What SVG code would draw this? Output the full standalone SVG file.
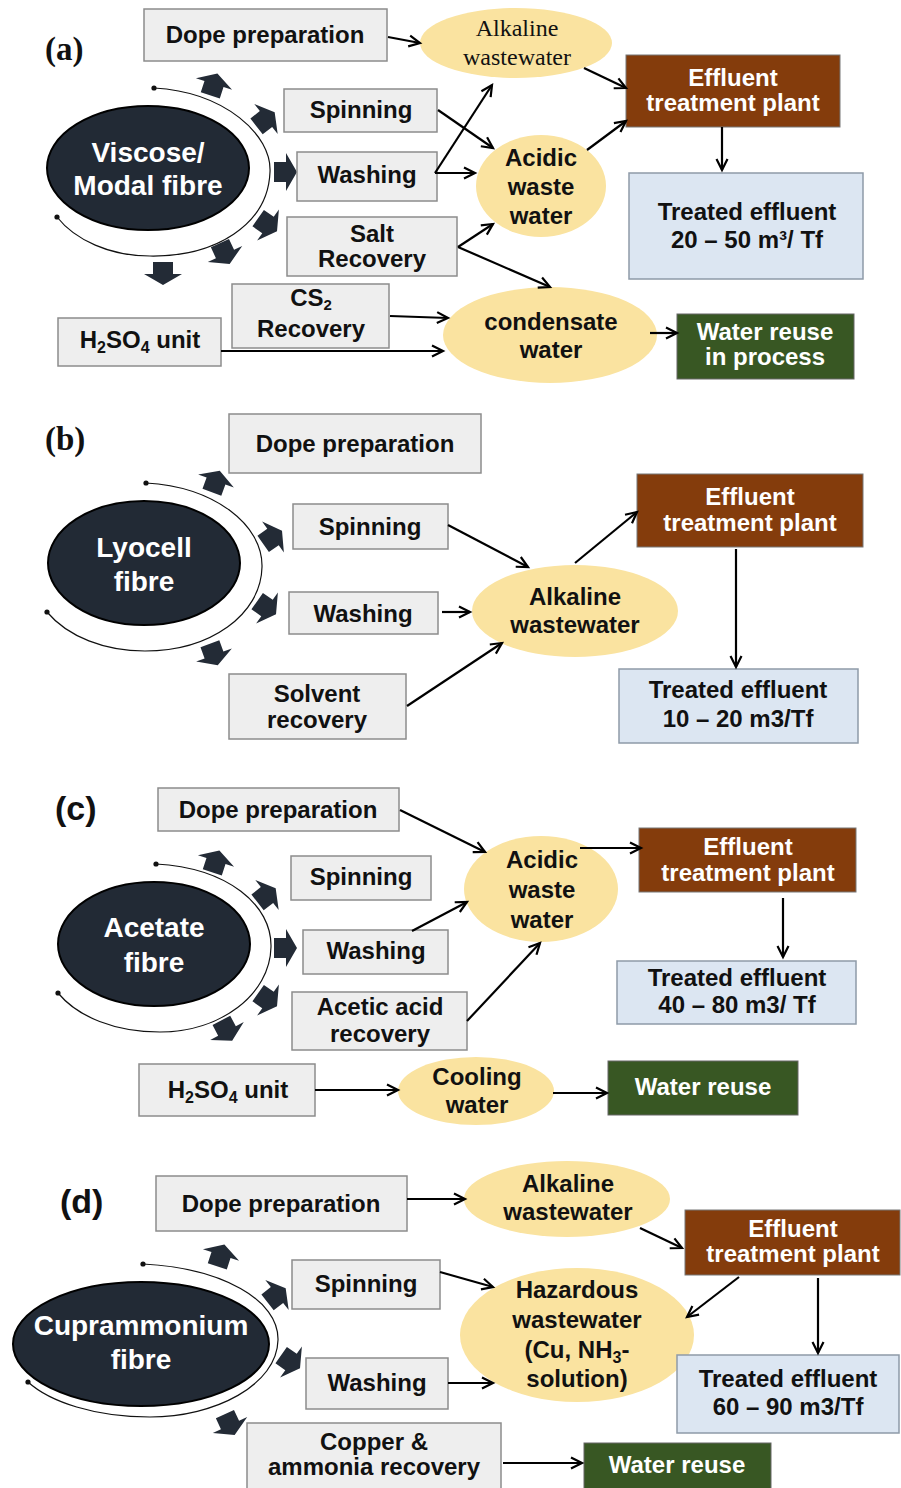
<svg xmlns="http://www.w3.org/2000/svg" width="901" height="1488" viewBox="0 0 901 1488">
<style>
.box{fill:#eeeeee;stroke:#8c8c8c;stroke-width:1.5}
.etp{fill:#843c0c;stroke:#777;stroke-width:1}
.blue{fill:#dce6f2;stroke:#8e9aa8;stroke-width:1.5}
.grn{fill:#385723;stroke:#666;stroke-width:1}
.yel{fill:#fae3a0}
.fib{fill:#222a35;stroke:#000;stroke-width:2}
.t{font-family:"Liberation Sans",Arial,sans-serif;font-weight:bold;font-size:24px;text-anchor:middle;fill:#111}
.tw{font-family:"Liberation Sans",Arial,sans-serif;font-weight:bold;font-size:24px;text-anchor:middle;fill:#fff}
.big{font-family:"Liberation Sans",Arial,sans-serif;font-weight:bold;font-size:28px;text-anchor:middle;fill:#fff}
.serif{font-family:"Liberation Serif","Times New Roman",serif;font-size:24px;text-anchor:middle;fill:#111}
.lblS{font-family:"Liberation Serif","Times New Roman",serif;font-weight:bold;font-size:33px;fill:#111}
.lblA{font-family:"Liberation Sans",Arial,sans-serif;font-weight:bold;font-size:34px;fill:#111}
.arc{fill:none;stroke:#111;stroke-width:1.2}
.dot{fill:#111}
.blk{fill:#232b36}
.con path{fill:none;stroke:#000;stroke-width:2.2;marker-end:url(#ah)}
</style>
<defs>
<marker id="ah" markerUnits="userSpaceOnUse" markerWidth="16" markerHeight="16" refX="12" refY="7" orient="auto">
<path d="M1,1.5 L12,7 L1,12.5" fill="none" stroke="#000" stroke-width="2.2"/>
</marker>
<path id="ba" d="M-12,-10 L0,-10 L0,-19 L11,0 L0,19 L0,10 L-12,10 Z"/>
</defs>
<rect width="901" height="1488" fill="#fff"/>

<!-- ===== (a) ===== -->
<text class="lblS" x="45" y="60">(a)</text>
<g id="a-fibre">
<ellipse class="fib" cx="148" cy="168" rx="101" ry="62"/>
<text class="big" x="148" y="162">Viscose/</text>
<text class="big" x="148" y="195">Modal fibre</text>
</g>
<g id="a-ring">
<path class="arc" d="M154,88 C225,92 272,135 270,172 C268,225 215,257 150,256 C110,256 75,240 57,217"/>
<circle class="dot" cx="154" cy="88" r="2.6"/>
<circle class="dot" cx="57" cy="217" r="2.6"/>
<use href="#ba" class="blk" transform="translate(214,84) rotate(-72)"/>
<use href="#ba" class="blk" transform="translate(266,119) rotate(-38)"/>
<use href="#ba" class="blk" transform="translate(286,172)"/>
<use href="#ba" class="blk" transform="translate(268,225) rotate(35)"/>
<use href="#ba" class="blk" transform="translate(225,254) rotate(65)"/>
<use href="#ba" class="blk" transform="translate(163,274) rotate(90)"/>
</g>
<g id="a-dope"><rect class="box" x="144" y="9" width="243" height="52"/><text class="t" x="265" y="43">Dope preparation</text></g>
<g id="a-spin"><rect class="box" x="284" y="89" width="153" height="43"/><text class="t" x="361" y="118">Spinning</text></g>
<g id="a-wash"><rect class="box" x="297" y="152" width="140" height="49"/><text class="t" x="367" y="183">Washing</text></g>
<g id="a-salt"><rect class="box" x="287" y="217" width="170" height="59"/><text class="t" x="372" y="242">Salt</text><text class="t" x="372" y="267">Recovery</text></g>
<g id="a-cs2"><rect class="box" x="232" y="284" width="157" height="64"/><text class="t" x="311" y="306">CS<tspan font-size="15" dy="4">2</tspan></text><text class="t" x="311" y="337">Recovery</text></g>
<g id="a-h2so4"><rect class="box" x="58" y="318" width="163" height="48"/><text class="t" x="140" y="348">H<tspan font-size="16" dy="5">2</tspan><tspan dy="-5">SO</tspan><tspan font-size="16" dy="5">4</tspan><tspan dy="-5"> unit</tspan></text></g>
<g id="a-alk"><ellipse class="yel" cx="516" cy="43" rx="96" ry="35"/><text class="serif" x="517" y="36">Alkaline</text><text class="serif" x="517" y="65">wastewater</text></g>
<g id="a-acid"><ellipse class="yel" cx="541" cy="186" rx="65" ry="51"/><text class="t" x="541" y="166">Acidic</text><text class="t" x="541" y="195">waste</text><text class="t" x="541" y="224">water</text></g>
<g id="a-cond"><ellipse class="yel" cx="550" cy="335" rx="107" ry="48"/><text class="t" x="551" y="330">condensate</text><text class="t" x="551" y="358">water</text></g>
<g id="a-etp"><rect class="etp" x="626" y="55" width="214" height="72"/><text class="tw" x="733" y="86">Effluent</text><text class="tw" x="733" y="111">treatment plant</text></g>
<g id="a-treated"><rect class="blue" x="629" y="173" width="234" height="106"/><text class="t" x="747" y="220">Treated effluent</text><text class="t" x="747" y="248">20 – 50 m³/ Tf</text></g>
<g id="a-reuse"><rect class="grn" x="677" y="314" width="177" height="65"/><text class="tw" x="765" y="340">Water reuse</text><text class="tw" x="765" y="365">in process</text></g>

<!-- ===== (b) ===== -->
<text class="lblS" x="45" y="450">(b)</text>
<g id="b-fibre">
<ellipse class="fib" cx="144" cy="563" rx="96" ry="62"/>
<text class="big" x="144" y="557">Lyocell</text>
<text class="big" x="144" y="591">fibre</text>
</g>
<g id="b-ring">
<path class="arc" d="M146,483 C215,487 263,525 262,567 C261,615 210,651 145,651 C105,651 68,637 47,612"/>
<circle class="dot" cx="146" cy="483" r="2.6"/>
<circle class="dot" cx="47" cy="612" r="2.6"/>
<use href="#ba" class="blk" transform="translate(216,481) rotate(-70)"/>
<use href="#ba" class="blk" transform="translate(273,537) rotate(-35)"/>
<use href="#ba" class="blk" transform="translate(267,608) rotate(35)"/>
<use href="#ba" class="blk" transform="translate(214,655) rotate(70)"/>
</g>
<g id="b-dope"><rect class="box" x="229" y="414" width="252" height="59"/><text class="t" x="355" y="452">Dope preparation</text></g>
<g id="b-spin"><rect class="box" x="293" y="504" width="155" height="45"/><text class="t" x="370" y="535">Spinning</text></g>
<g id="b-wash"><rect class="box" x="289" y="592" width="149" height="42"/><text class="t" x="363" y="622">Washing</text></g>
<g id="b-solv"><rect class="box" x="229" y="674" width="177" height="65"/><text class="t" x="317" y="702">Solvent</text><text class="t" x="317" y="728">recovery</text></g>
<g id="b-alk"><ellipse class="yel" cx="575" cy="611" rx="103" ry="46"/><text class="t" x="575" y="605">Alkaline</text><text class="t" x="575" y="633">wastewater</text></g>
<g id="b-etp"><rect class="etp" x="637" y="474" width="226" height="73"/><text class="tw" x="750" y="505">Effluent</text><text class="tw" x="750" y="531">treatment plant</text></g>
<g id="b-treated"><rect class="blue" x="619" y="669" width="239" height="74"/><text class="t" x="738" y="698">Treated effluent</text><text class="t" x="738" y="727">10 – 20 m3/Tf</text></g>

<!-- ===== (c) ===== -->
<text class="lblA" x="55" y="820">(c)</text>
<g id="c-fibre">
<ellipse class="fib" cx="154" cy="944" rx="96" ry="62"/>
<text class="big" x="154" y="937">Acetate</text>
<text class="big" x="154" y="972">fibre</text>
</g>
<g id="c-ring">
<path class="arc" d="M156,864 C228,868 272,905 271,947 C270,995 220,1032 160,1032 C115,1032 78,1017 58,993"/>
<circle class="dot" cx="156" cy="864" r="2.6"/>
<circle class="dot" cx="58" cy="993" r="2.6"/>
<use href="#ba" class="blk" transform="translate(216,861) rotate(-72)"/>
<use href="#ba" class="blk" transform="translate(267,895) rotate(-38)"/>
<use href="#ba" class="blk" transform="translate(286,948)"/>
<use href="#ba" class="blk" transform="translate(268,1000) rotate(35)"/>
<use href="#ba" class="blk" transform="translate(227,1031) rotate(62)"/>
</g>
<g id="c-dope"><rect class="box" x="158" y="788" width="241" height="43"/><text class="t" x="278" y="818">Dope preparation</text></g>
<g id="c-spin"><rect class="box" x="291" y="856" width="140" height="44"/><text class="t" x="361" y="885">Spinning</text></g>
<g id="c-wash"><rect class="box" x="303" y="930" width="145" height="44"/><text class="t" x="376" y="959">Washing</text></g>
<g id="c-acet"><rect class="box" x="292" y="992" width="175" height="58"/><text class="t" x="380" y="1015">Acetic acid</text><text class="t" x="380" y="1042">recovery</text></g>
<g id="c-h2so4"><rect class="box" x="139" y="1064" width="176" height="52"/><text class="t" x="228" y="1098">H<tspan font-size="16" dy="5">2</tspan><tspan dy="-5">SO</tspan><tspan font-size="16" dy="5">4</tspan><tspan dy="-5"> unit</tspan></text></g>
<g id="c-acid"><ellipse class="yel" cx="541" cy="889" rx="77" ry="53"/><text class="t" x="542" y="868">Acidic</text><text class="t" x="542" y="898">waste</text><text class="t" x="542" y="928">water</text></g>
<g id="c-etp"><rect class="etp" x="639" y="828" width="217" height="64"/><text class="tw" x="748" y="855">Effluent</text><text class="tw" x="748" y="881">treatment plant</text></g>
<g id="c-treated"><rect class="blue" x="617" y="961" width="239" height="63"/><text class="t" x="737" y="986">Treated effluent</text><text class="t" x="737" y="1013">40 – 80 m3/ Tf</text></g>
<g id="c-cool"><ellipse class="yel" cx="476" cy="1091" rx="78" ry="34"/><text class="t" x="477" y="1085">Cooling</text><text class="t" x="477" y="1113">water</text></g>
<g id="c-reuse"><rect class="grn" x="608" y="1061" width="190" height="54"/><text class="tw" x="703" y="1095">Water reuse</text></g>

<!-- ===== (d) ===== -->
<text class="lblA" x="60" y="1213">(d)</text>
<g id="d-fibre">
<ellipse class="fib" cx="141" cy="1344" rx="128" ry="62"/>
<text class="big" x="141" y="1335">Cuprammonium</text>
<text class="big" x="141" y="1369">fibre</text>
</g>
<g id="d-ring">
<path class="arc" d="M143,1264 C222,1268 279,1300 278,1340 C277,1385 215,1417 150,1417 C95,1417 50,1402 28,1382"/>
<circle class="dot" cx="143" cy="1264" r="2.6"/>
<circle class="dot" cx="28" cy="1382" r="2.6"/>
<use href="#ba" class="blk" transform="translate(221,1255) rotate(-72)"/>
<use href="#ba" class="blk" transform="translate(277,1295) rotate(-38)"/>
<use href="#ba" class="blk" transform="translate(291,1362) rotate(35)"/>
<use href="#ba" class="blk" transform="translate(230,1425) rotate(65)"/>
</g>
<g id="d-dope"><rect class="box" x="156" y="1176" width="251" height="55"/><text class="t" x="281" y="1212">Dope preparation</text></g>
<g id="d-spin"><rect class="box" x="292" y="1260" width="148" height="49"/><text class="t" x="366" y="1292">Spinning</text></g>
<g id="d-wash"><rect class="box" x="306" y="1358" width="142" height="51"/><text class="t" x="377" y="1391">Washing</text></g>
<g id="d-copper"><rect class="box" x="247" y="1423" width="254" height="72"/><text class="t" x="374" y="1450">Copper &amp;</text><text class="t" x="374" y="1475">ammonia recovery</text></g>
<g id="d-alk"><ellipse class="yel" cx="567" cy="1199" rx="103" ry="38"/><text class="t" x="568" y="1192">Alkaline</text><text class="t" x="568" y="1220">wastewater</text></g>
<g id="d-haz"><ellipse class="yel" cx="577" cy="1335" rx="117" ry="67"/><text class="t" x="577" y="1298">Hazardous</text><text class="t" x="577" y="1328">wastewater</text><text class="t" x="577" y="1358">(Cu, NH<tspan font-size="16" dy="5">3</tspan><tspan dy="-5">-</tspan></text><text class="t" x="577" y="1387">solution)</text></g>
<g id="d-etp"><rect class="etp" x="685" y="1210" width="215" height="65"/><text class="tw" x="793" y="1237">Effluent</text><text class="tw" x="793" y="1262">treatment plant</text></g>
<g id="d-treated"><rect class="blue" x="677" y="1355" width="222" height="78"/><text class="t" x="788" y="1387">Treated effluent</text><text class="t" x="788" y="1415">60 – 90 m3/Tf</text></g>
<g id="d-reuse"><rect class="grn" x="584" y="1443" width="187" height="50"/><text class="tw" x="677" y="1473">Water reuse</text></g>

<!-- ===== connectors ===== -->
<g id="connectors" class="con">
<path d="M388,37 L420,43"/>
<path d="M584,68 L626,88"/>
<path d="M438,110 L493,148"/>
<path d="M435,173 L492,85"/>
<path d="M435,173 L475,173"/>
<path d="M458,247 L493,224"/>
<path d="M458,247 L550,287"/>
<path d="M587,150 L626,121"/>
<path d="M722,127 L722,170"/>
<path d="M390,316 L448,318"/>
<path d="M221,351 L443,351"/>
<path d="M650,333 L677,333"/>

<path d="M448,525 L528,567"/>
<path d="M442,612 L470,612"/>
<path d="M407,706 L502,643"/>
<path d="M575,563 L637,512"/>
<path d="M736,549 L736,667"/>

<path d="M400,810 L485,852"/>
<path d="M412,931 L467,902"/>
<path d="M467,1021 L540,943"/>
<path d="M580,848 L641,848"/>
<path d="M783,898 L783,957"/>
<path d="M315,1090 L398,1090"/>
<path d="M553,1093 L607,1093"/>

<path d="M407,1199 L465,1199"/>
<path d="M640,1228 L682,1248"/>
<path d="M440,1272 L493,1287"/>
<path d="M448,1383 L493,1383"/>
<path d="M739,1277 L687,1317"/>
<path d="M818,1278 L818,1353"/>
<path d="M503,1463 L582,1463"/>
</g>
</svg>
